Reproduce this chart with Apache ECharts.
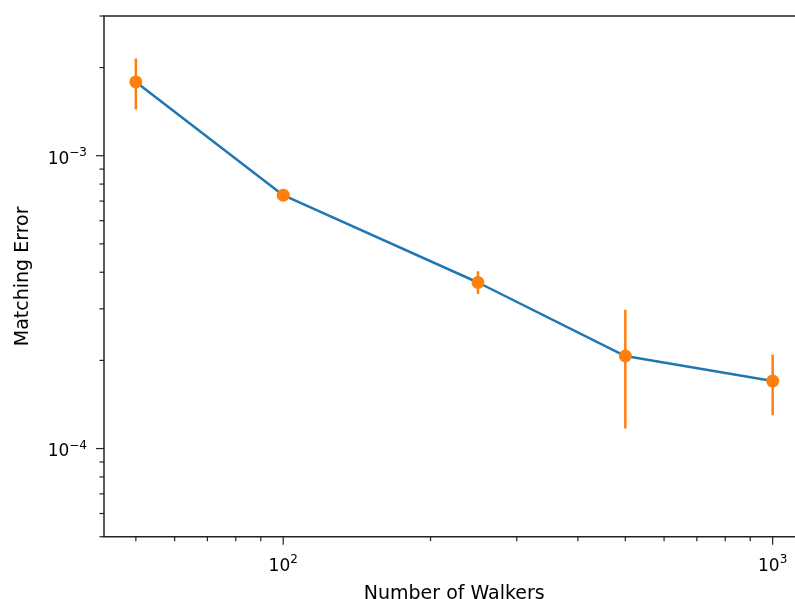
<!DOCTYPE html>
<html>
<head>
<meta charset="utf-8">
<script src="https://cdn.jsdelivr.net/npm/echarts@6/dist/echarts.min.js"></script>
<style>
html,body{margin:0;padding:0;background:#fff;overflow:hidden;}
#c{width:795px;height:599px;}
</style>
</head>
<body>
<div id="c"></div>
<script>
// Data
const walkers = [50, 100, 250, 500, 1000];
const matchErr = [1.786e-3, 7.33e-4, 3.69e-4, 2.07e-4, 1.70e-4];
const errLow = [1.439e-3, 7.12e-4, 3.37e-4, 1.17e-4, 1.30e-4];
const errHigh = [2.148e-3, 7.55e-4, 4.03e-4, 2.98e-4, 2.09e-4];

// Axis ranges and ticks
const xRange = [43.04, 1161.6];
const yRange = [5e-5, 3e-3];
const xMajorTicks = [100, 1000];
const xMinorTicks = [50, 60, 70, 80, 90, 200, 300, 400, 500, 600, 700, 800, 900];
const yMajorTicks = [1e-4, 1e-3];
const yMinorTicks = [5e-5, 6e-5, 7e-5, 8e-5, 9e-5, 2e-4, 3e-4, 4e-4, 5e-4, 6e-4, 7e-4, 8e-4, 9e-4, 2e-3, 3e-3];

const BLUE = '#1f77b4', ORANGE = '#ff7f0e', INK = '#222';
const FONT = '"DejaVu Sans", sans-serif';

function powLabel(v) {
  const e = Math.log10(v);
  const r = Math.round(e);
  if (Math.abs(e - r) > 1e-6) return '';
  const exp = r < 0 ? '\u2212' + Math.abs(r) : String(r);
  return '{b|10}{e|' + exp + '}';
}
const richLbl = {
  b: {fontSize: 17, fontFamily: FONT, color: '#000', lineHeight: 24, verticalAlign: 'bottom'},
  e: {fontSize: 12, fontFamily: FONT, color: '#000', lineHeight: 24, verticalAlign: 'bottom', padding: [0, 0, 9, 0]}
};

const chart = echarts.init(document.getElementById('c'), null, {renderer: 'canvas'});
const lineData = walkers.map((x, i) => [x, matchErr[i]]);
const errData = walkers.map((x, i) => [x, errLow[i], errHigh[i]]);

chart.setOption({
  animation: false,
  backgroundColor: '#fff',
  grid: {left: 104, top: 16, width: 700.5, height: 520.7, show: true, borderColor: INK, borderWidth: 1.5, backgroundColor: 'transparent', containLabel: false, outerBoundsMode: 'none'},
  xAxis: {
    type: 'log', logBase: 10, min: xRange[0], max: xRange[1],
    name: 'Number of Walkers', nameLocation: 'middle', nameGap: 48,
    nameTextStyle: {fontSize: 19, fontFamily: FONT, color: '#000'},
    axisLine: {show: false}, axisTick: {show: false}, splitLine: {show: false}, minorTick: {show: false},
    axisLabel: {margin: 14, formatter: powLabel, rich: richLbl, showMinLabel: true, showMaxLabel: true, hideOverlap: false}
  },
  yAxis: {
    type: 'log', logBase: 10, min: yRange[0], max: yRange[1],
    name: 'Matching Error', nameLocation: 'middle', nameGap: 71,
    nameTextStyle: {fontSize: 19, fontFamily: FONT, color: '#000'},
    axisLine: {show: false}, axisTick: {show: false}, splitLine: {show: false}, minorTick: {show: false},
    axisLabel: {margin: 17, formatter: powLabel, rich: richLbl, hideOverlap: false}
  },
  series: [
    {type: 'line', data: lineData, symbol: 'none', lineStyle: {color: BLUE, width: 2.5}, z: 2, clip: true},
    {type: 'custom', data: errData, z: 3, clip: true,
      renderItem: function (params, api) {
        const x = api.value(0);
        const p1 = api.coord([x, api.value(2)]);
        const p2 = api.coord([x, api.value(1)]);
        return {type: 'line', shape: {x1: p1[0], y1: p1[1], x2: p2[0], y2: p2[1]}, style: {stroke: ORANGE, lineWidth: 2.5}};
      }
    },
    {type: 'scatter', data: lineData, symbol: 'circle', symbolSize: 13, itemStyle: {color: ORANGE, opacity: 1}, z: 4}
  ]
});

// Tick marks placed through the axis scales
const gridTop = 16, gridLeft = 104, gridBottom = 16 + 520.7;
const elements = [];
function addX(v, len) {
  const px = chart.convertToPixel({xAxisIndex: 0}, v);
  elements.push({type: 'line', shape: {x1: px, y1: gridBottom, x2: px, y2: gridBottom + len}, style: {stroke: INK, lineWidth: 1.2}, silent: true});
}
function addY(v, len) {
  const py = chart.convertToPixel({yAxisIndex: 0}, v);
  elements.push({type: 'line', shape: {x1: gridLeft, y1: py, x2: gridLeft - len, y2: py}, style: {stroke: INK, lineWidth: 1.2}, silent: true});
}
xMajorTicks.forEach(v => addX(v, 8));
xMinorTicks.forEach(v => addX(v, 4.5));
yMajorTicks.forEach(v => addY(v, 8));
yMinorTicks.forEach(v => addY(v, 4.5));
chart.setOption({graphic: {elements: elements}});
</script>
</body>
</html>
